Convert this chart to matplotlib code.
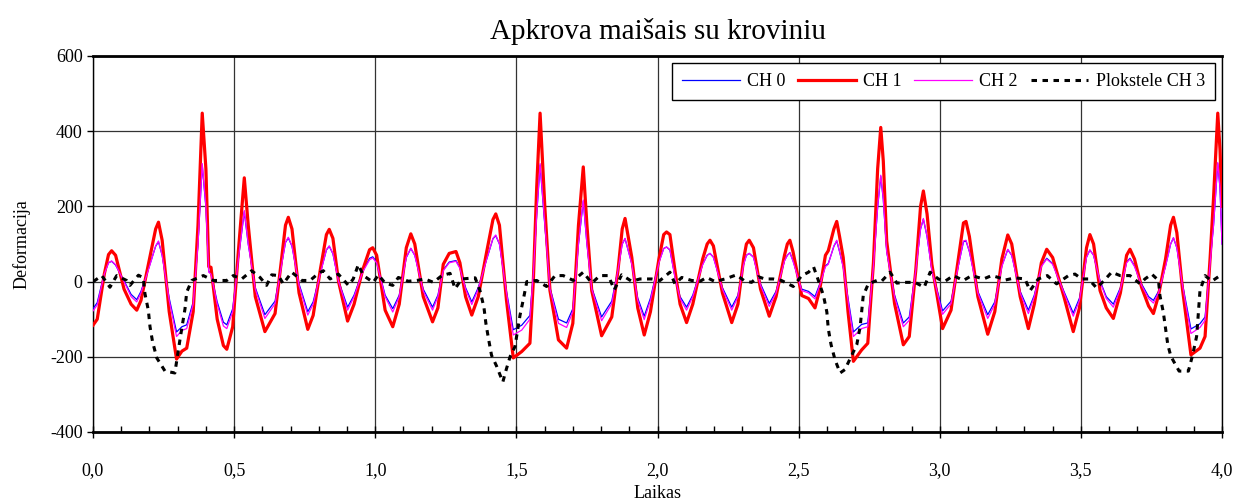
import matplotlib
matplotlib.use("Agg")
import matplotlib.pyplot as plt
import matplotlib.ticker as mticker

plt.rcParams["font.family"] = ["Liberation Serif", "DejaVu Serif"]
plt.rcParams["axes.unicode_minus"] = False

# ── Strain channels CH 0..CH 2 (shared time base, s) ──────────────────────────
t_ch = [
    0.000, 0.015, 0.040, 0.055, 0.066, 0.080, 0.110, 0.135, 0.155, 0.170,
    0.200, 0.222, 0.232, 0.245, 0.270, 0.296, 0.315, 0.332, 0.355, 0.372,
    0.387, 0.400, 0.410, 0.418, 0.440, 0.462, 0.474, 0.495, 0.515, 0.536,
    0.550, 0.575, 0.609, 0.645, 0.665, 0.682, 0.692, 0.705, 0.730, 0.761,
    0.780, 0.805, 0.827, 0.837, 0.850, 0.870, 0.902, 0.925, 0.955, 0.980,
    0.991, 1.005, 1.035, 1.062, 1.085, 1.110, 1.126, 1.140, 1.170, 1.203,
    1.222, 1.241, 1.262, 1.286, 1.300, 1.320, 1.342, 1.365, 1.395, 1.417,
    1.427, 1.440, 1.465, 1.489, 1.519, 1.548, 1.560, 1.572, 1.584, 1.601,
    1.619, 1.649, 1.678, 1.700, 1.720, 1.737, 1.750, 1.767, 1.802, 1.838,
    1.860, 1.875, 1.885, 1.909, 1.930, 1.953, 1.975, 2.005, 2.022, 2.032,
    2.044, 2.062, 2.080, 2.103, 2.125, 2.160, 2.176, 2.186, 2.198, 2.230,
    2.263, 2.285, 2.305, 2.315, 2.325, 2.340, 2.365, 2.396, 2.420, 2.450,
    2.460, 2.469, 2.480, 2.511, 2.535, 2.558, 2.575, 2.595, 2.605, 2.625,
    2.635, 2.645, 2.658, 2.675, 2.694, 2.723, 2.745, 2.765, 2.780, 2.791,
    2.800, 2.812, 2.840, 2.871, 2.892, 2.915, 2.932, 2.942, 2.955, 2.972,
    3.010, 3.040, 3.060, 3.084, 3.093, 3.105, 3.135, 3.170, 3.195, 3.220,
    3.241, 3.255, 3.285, 3.314, 3.335, 3.360, 3.379, 3.400, 3.440, 3.473,
    3.495, 3.520, 3.532, 3.545, 3.568, 3.590, 3.615, 3.640, 3.662, 3.674,
    3.690, 3.715, 3.740, 3.757, 3.775, 3.800, 3.818, 3.828, 3.840, 3.860,
    3.890, 3.922, 3.940, 3.958, 3.970, 3.985, 3.993, 4.000,
]

ch1 = [
    -116, -100, 20, 72, 82, 70, -20, -60, -76, -50,
    60, 140, 158, 110, -80, -206, -185, -177, -80, 150,
    448, 300, 40, 38, -100, -170, -180, -120, 80, 276,
    150, -40, -133, -85, 40, 150, 171, 140, -30, -127,
    -90, 30, 125, 139, 115, 0, -105, -60, 30, 85,
    90, 70, -76, -120, -60, 90, 127, 100, -40, -107,
    -70, 46, 75, 80, 50, -40, -89, -40, 80, 165,
    180, 150, -50, -203, -186, -164, 0, 250, 448, 196,
    -24, -155, -177, -111, 150, 305, 150, -24, -144, -94,
    30, 140, 168, 64, -70, -142, -80, 60, 125, 132,
    125, 29, -60, -109, -60, 60, 100, 110, 95, -30,
    -109, -60, 60, 100, 110, 90, -20, -92, -40, 70,
    100, 110, 80, -37, -45, -70, -20, 70, 82, 140,
    160, 120, 64, -80, -212, -182, -164, 50, 300, 410,
    320, 108, -59, -168, -146, 30, 200, 241, 180, 46,
    -125, -76, 30, 156, 160, 120, -40, -140, -80, 60,
    124, 100, -40, -125, -60, 50, 86, 64, -40, -133,
    -70, 90, 125, 100, -24, -70, -98, -30, 70, 86,
    60, -15, -65, -85, -37, 60, 150, 171, 130, -20,
    -195, -177, -146, 64, 222, 448, 350, 200,
]

ch2 = [
    -78, -62, 20, 50, 55, 45, 0, -40, -54, -30,
    40, 95, 108, 70, -50, -146, -130, -125, -60, 100,
    314, 200, 25, 20, -60, -118, -125, -80, 60, 189,
    100, -20, -98, -59, 30, 105, 118, 95, -10, -89,
    -60, 20, 85, 95, 75, 0, -76, -40, 25, 58,
    63, 50, -40, -81, -40, 65, 89, 70, -25, -76,
    -40, 29, 50, 54, 35, -20, -61, -20, 60, 115,
    124, 100, -30, -142, -129, -100, 20, 180, 314, 150,
    -20, -111, -122, -80, 100, 217, 100, -20, -104, -59,
    30, 100, 115, 46, -50, -101, -50, 50, 88, 92,
    85, 11, -45, -76, -40, 45, 70, 75, 65, -20,
    -76, -40, 45, 70, 75, 65, -10, -66, -30, 55,
    70, 77, 55, -24, -30, -46, -10, 40, 46, 95,
    110, 80, 38, -50, -146, -125, -120, 40, 200, 283,
    220, 80, -41, -120, -103, 30, 140, 168, 120, 30,
    -87, -59, 20, 108, 110, 80, -30, -98, -60, 40,
    86, 70, -30, -85, -40, 40, 60, 46, -30, -92,
    -50, 65, 84, 70, 0, -45, -68, -20, 50, 60,
    40, -10, -45, -57, -30, 40, 100, 117, 90, -10,
    -138, -122, -103, 50, 150, 317, 250, 100,
]

ch0 = [
    -72, -56, 22, 50, 54, 44, 2, -34, -48, -26,
    42, 94, 106, 70, -44, -134, -120, -115, -54, 100,
    310, 198, 27, 22, -54, -108, -115, -72, 60, 186,
    100, -16, -88, -52, 32, 104, 116, 94, -6, -80,
    -54, 22, 84, 94, 74, 2, -68, -36, 27, 62,
    66, 52, -36, -72, -36, 64, 88, 70, -20, -68,
    -36, 31, 52, 56, 37, -16, -54, -16, 60, 114,
    122, 100, -26, -128, -116, -90, 22, 178, 310, 148,
    -16, -100, -110, -72, 100, 214, 100, -16, -94, -52,
    32, 100, 114, 48, -44, -92, -44, 52, 88, 92,
    84, 13, -40, -68, -36, 46, 70, 75, 65, -16,
    -68, -36, 46, 70, 75, 65, -6, -58, -26, 56,
    70, 77, 56, -20, -26, -40, -6, 42, 48, 94,
    108, 80, 40, -44, -134, -114, -110, 42, 198, 280,
    218, 80, -36, -110, -94, 32, 140, 166, 120, 32,
    -78, -52, 22, 106, 108, 80, -26, -88, -54, 42,
    85, 70, -26, -76, -36, 42, 62, 48, -26, -84,
    -44, 65, 84, 70, 2, -40, -60, -16, 52, 62,
    42, -6, -40, -50, -26, 42, 100, 116, 90, -6,
    -126, -112, -94, 52, 150, 314, 248, 100,
]

# ── Plate channel CH 3 (own time base, s) ─────────────────────────────────────
t_ch3 = [
    0.001, 0.031, 0.060, 0.084, 0.119, 0.131, 0.161, 0.178, 0.184, 0.196,
    0.202, 0.211, 0.226, 0.255, 0.290, 0.308, 0.326, 0.332, 0.350, 0.391,
    0.426, 0.474, 0.497, 0.527, 0.562, 0.592, 0.615, 0.633, 0.657, 0.674,
    0.704, 0.740, 0.769, 0.799, 0.816, 0.840, 0.869, 0.905, 0.922, 0.940,
    0.958, 0.993, 1.011, 1.035, 1.062, 1.082, 1.117, 1.147, 1.176, 1.206,
    1.236, 1.265, 1.283, 1.306, 1.354, 1.371, 1.385, 1.392, 1.401, 1.412,
    1.430, 1.452, 1.464, 1.478, 1.495, 1.513, 1.525, 1.537, 1.572, 1.607,
    1.637, 1.666, 1.702, 1.737, 1.767, 1.796, 1.826, 1.847, 1.873, 1.908,
    1.938, 1.979, 2.009, 2.044, 2.062, 2.086, 2.121, 2.151, 2.174, 2.204,
    2.239, 2.280, 2.306, 2.333, 2.357, 2.380, 2.410, 2.439, 2.481, 2.511,
    2.535, 2.553, 2.570, 2.588, 2.600, 2.605, 2.615, 2.629, 2.647, 2.664,
    2.706, 2.718, 2.729, 2.747, 2.777, 2.794, 2.824, 2.848, 2.877, 2.912,
    2.945, 2.966, 2.995, 3.019, 3.048, 3.084, 3.113, 3.155, 3.184, 3.208,
    3.231, 3.267, 3.302, 3.320, 3.349, 3.381, 3.414, 3.456, 3.479, 3.503,
    3.527, 3.556, 3.580, 3.609, 3.639, 3.674, 3.710, 3.727, 3.751, 3.775,
    3.780, 3.792, 3.800, 3.808, 3.819, 3.848, 3.881, 3.896, 3.910, 3.914,
    3.922, 3.940, 3.964, 3.993,
]

ch3 = [
    0, 16, -15, 16, 3, -10, 17, 10, -32, -76,
    -120, -160, -203, -238, -243, -155, -72, -28, 3, 16,
    3, 3, 16, 7, 29, 11, -10, 18, 16, -6,
    25, 3, 3, 22, 29, 7, 20, -10, 7, 45,
    16, -2, 18, -4, -10, 11, 1, 3, 7, -2,
    16, 22, -19, 7, 10, -24, -68, -111, -151, -196,
    -225, -267, -234, -199, -173, -89, -46, 0, 3, -13,
    16, 16, 3, 25, -4, 16, 16, -22, 18, 1,
    7, 7, 3, 25, -6, 11, 3, 1, 11, 0,
    7, 18, 3, -2, 13, 7, 7, 3, -13, 16,
    25, 39, 3, -37, -81, -125, -168, -208, -243, -234,
    -168, -120, -37, -6, 3, 1, 25, -4, -2, -2,
    -15, 25, 7, 1, 16, 3, 16, 7, 16, 11,
    4, 10, 7, -24, 7, 16, -6, 16, 20, 7,
    7, -17, 1, 25, 16, 16, -6, 7, 20, 3,
    -37, -81, -125, -168, -199, -238, -238, -195, -146, -107,
    -24, 16, 1, 16,
]

x_ticks = [0.0, 0.5, 1.0, 1.5, 2.0, 2.5, 3.0, 3.5, 4.0]
y_ticks = [-400, -200, 0, 200, 400, 600]

# ── Plot ───────────────────────────────────────────────────────────────────────
fig = plt.figure(figsize=(12.53, 5.04), dpi=100)
ax = fig.add_axes([93 / 1253, 1 - 432 / 504, 1129 / 1253, 376 / 504])

ax.plot(t_ch, ch0, color="#0000ff", linewidth=0.9, label="CH 0", zorder=3)
ax.plot(t_ch, ch1, color="#ff0000", linewidth=2.3, label="CH 1", zorder=3)
ax.plot(t_ch, ch2, color="#ff00ff", linewidth=0.9, label="CH 2", zorder=3)
ax.plot(t_ch3, ch3, color="black", linewidth=2.2, linestyle=(0, (1.8, 1.8)),
        label="Plokstele CH 3", zorder=4)

ax.set_xlim(0, 4.0)
ax.set_ylim(-400, 600)
ax.set_xticks(x_ticks)
ax.set_yticks(y_ticks)
ax.xaxis.set_minor_locator(mticker.MultipleLocator(0.1))
ax.xaxis.set_major_formatter(mticker.FuncFormatter(lambda v, p: f"{v:.1f}".replace(".", ",")))
ax.tick_params(axis="x", which="major", direction="inout", length=8, width=1, labelsize=13, pad=18)
ax.tick_params(axis="x", which="minor", direction="in", length=4, width=1)
ax.tick_params(axis="y", which="major", direction="out", length=4, width=1, labelsize=13)

ax.grid(True, which="major", color="#333333", linewidth=0.9)
ax.set_axisbelow(True)

for side in ("top", "bottom"):
    ax.spines[side].set_linewidth(2.0)
for side in ("left", "right"):
    ax.spines[side].set_linewidth(1.0)

ax.set_title("Apkrova maišais su kroviniu", fontsize=21, pad=12)
ax.set_xlabel("Laikas", fontsize=13, labelpad=4)
ax.set_ylabel("Deformacija", fontsize=13, labelpad=14)

leg = ax.legend(loc="upper right", ncol=4, fontsize=13, frameon=True, fancybox=False,
                edgecolor="black", framealpha=1, borderaxespad=0.4,
                handlelength=3.2, columnspacing=0.7, handletextpad=0.4,
                borderpad=0.55)
leg.get_frame().set_linewidth(1.0)

fig.savefig("out.png", dpi=100)
